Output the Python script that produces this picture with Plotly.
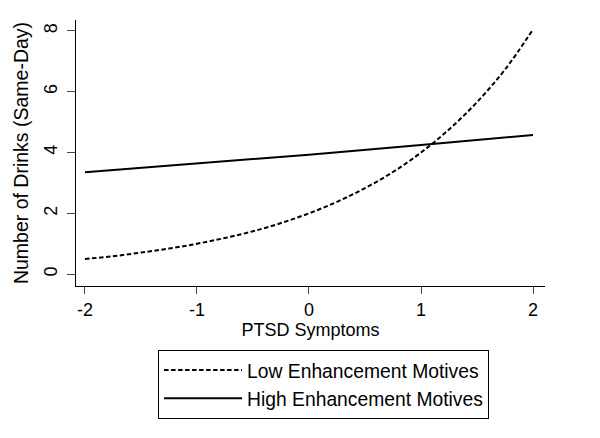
import plotly.graph_objects as go

ptsd = [-2, -1.75, -1.5, -1.25, -1, -0.75, -0.5, -0.25, 0, 0.25, 0.5, 0.75, 1, 1.25, 1.5, 1.75, 2]
low_enh = [0.50, 0.59, 0.71, 0.84, 1.00, 1.19, 1.41, 1.68, 2.00, 2.38, 2.83, 3.36, 4.00, 4.76, 5.66, 6.73, 8.05]
ptsd_high = [-2, -1, 0, 1, 2]
high_enh = [3.35, 3.63, 3.93, 4.25, 4.58]
x_ticks = [-2, -1, 0, 1, 2]
x_ticklabels = ["-2", "-1", "0", "1", "2"]
y_ticks = [0, 2, 4, 6, 8]
y_ticklabels = ["0", "2", "4", "6", "8"]

font = "Liberation Sans, Arial, sans-serif"

fig = go.Figure()
fig.add_trace(go.Scatter(x=ptsd, y=low_enh, mode="lines", name="Low Enhancement Motives",
                         line=dict(color="black", width=2, dash="4.5px,2.5px", shape="spline")))
fig.add_trace(go.Scatter(x=ptsd_high, y=high_enh, mode="lines", name="High Enhancement Motives",
                         line=dict(color="black", width=2)))

# page body has an 8px margin: figure is 584x422 so the page is exactly 600x438
fig.update_layout(
    width=584, height=422,
    margin=dict(l=68, r=47, t=12, b=143),
    paper_bgcolor="white", plot_bgcolor="white",
    font=dict(family=font, color="black", size=18),
    showlegend=True,
    legend=dict(x=0.175, y=-0.236, xanchor="left", yanchor="top",
                bordercolor="black", borderwidth=1, bgcolor="white",
                font=dict(size=19.3), itemwidth=78, tracegroupgap=0),
)
fig.update_xaxes(range=[-2.08, 2.107], tickvals=x_ticks, ticktext=x_ticklabels, ticks="outside", ticklen=7,
                 showline=True, linecolor="black", linewidth=1, showgrid=False, zeroline=False,
                 automargin=False,
                 tickfont=dict(size=18), title=dict(text="PTSD Symptoms", font=dict(size=18), standoff=0))
fig.update_yaxes(range=[-0.39, 8.36], tickvals=y_ticks, ticktext=y_ticklabels, ticks="outside", ticklen=8,
                 tickangle=-90, ticklabelstandoff=3, automargin=False,
                 showline=True, linecolor="black", linewidth=1, showgrid=False, zeroline=False,
                 tickfont=dict(size=18), title=dict(text="Number of Drinks (Same-Day)", font=dict(size=19.5), standoff=6))

fig.write_html("out.html")
